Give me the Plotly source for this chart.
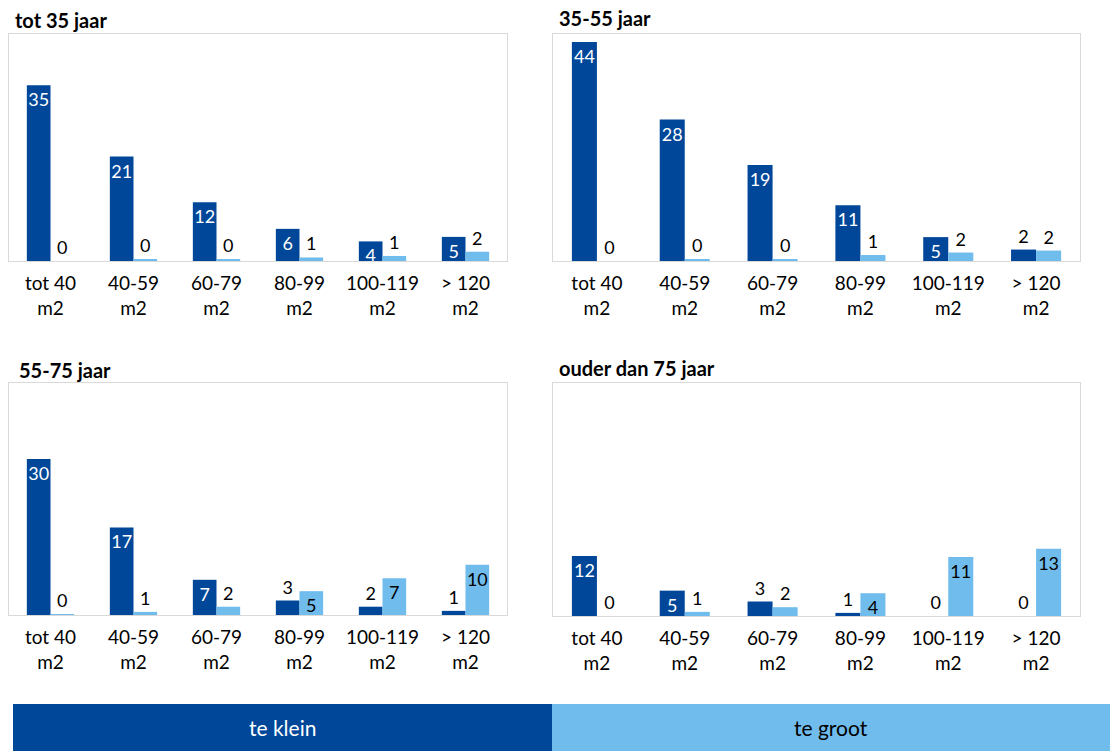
import plotly.graph_objects as go

# categories (floor area) and age groups
categories = ["tot 40 m2", "40-59 m2", "60-79 m2", "80-99 m2", "100-119 m2", "> 120 m2"]
panel_titles = ["tot 35 jaar", "35-55 jaar", "55-75 jaar", "ouder dan 75 jaar"]
series_names = ["te klein", "te groot"]

# values (percentages, labels are rounded)
te_klein_tot35 = [35.0, 20.8, 11.7, 6.4, 3.9, 4.8]
te_groot_tot35 = [0.0, 0.35, 0.4, 0.7, 1.0, 1.85]

te_klein_35_55 = [44.0, 28.4, 19.3, 11.2, 4.8, 2.3]
te_groot_35_55 = [0.0, 0.3, 0.3, 1.2, 1.7, 2.1]

te_klein_55_75 = [30.1, 16.9, 6.8, 2.8, 1.6, 0.8]
te_groot_55_75 = [0.1, 0.6, 1.6, 4.6, 7.1, 9.7]

te_klein_75plus = [11.6, 4.9, 2.8, 0.6, 0.0, 0.0]
te_groot_75plus = [0.0, 0.8, 1.7, 4.4, 11.4, 13.0]

panels = [
    (te_klein_tot35, te_groot_tot35),
    (te_klein_35_55, te_groot_35_55),
    (te_klein_55_75, te_groot_55_75),
    (te_klein_75plus, te_groot_75plus),
]

DARK = "#00479A"
LIGHT = "#70BCEC"
BORDER = "#D9D9D9"
FONT = "Lato"

W, H = 1110, 751

# pixel boxes of the four plot areas: (left, right, top, bottom)
boxes = [(9, 507, 34, 261), (553, 1080, 34, 261), (9, 507, 383, 615), (553, 1080, 383, 616)]
title_pos = [(13, 20), (557, 18), (17, 370), (557, 368)]
y_max = [45.2, 45.6, 44.8, 45.0]

tick_text = [c.replace(" m2", "<br>m2") for c in categories]


def positions(values):
    # short bars get their label above the bar
    return ["inside" if round(v) >= 4 else "outside" for v in values]


fig = go.Figure()
layout_axes = {}

for i, (klein, groot) in enumerate(panels):
    n = "" if i == 0 else str(i + 1)
    left, right, top, bottom = boxes[i]

    fig.add_trace(go.Bar(
        x=categories, y=klein, name=series_names[0],
        xaxis="x" + n, yaxis="y" + n,
        marker=dict(color=DARK, line=dict(width=0)),
        texttemplate="%{y:.0f}", textposition=positions(klein),
        insidetextanchor="end", textangle=0,
        insidetextfont=dict(color="white", size=18, family=FONT),
        outsidetextfont=dict(color="black", size=18, family=FONT),
        cliponaxis=False, showlegend=False, hoverinfo="skip"
    ))
    fig.add_trace(go.Bar(
        x=categories, y=groot, name=series_names[1],
        xaxis="x" + n, yaxis="y" + n,
        marker=dict(color=LIGHT, line=dict(width=0)),
        texttemplate="%{y:.0f}", textposition=positions(groot),
        insidetextanchor="end", textangle=0,
        insidetextfont=dict(color="black", size=18, family=FONT),
        outsidetextfont=dict(color="black", size=18, family=FONT),
        cliponaxis=False, showlegend=False, hoverinfo="skip"
    ))

    layout_axes["xaxis" + n] = dict(
        domain=[left / W, right / W], anchor="y" + n,
        tickvals=categories, ticktext=tick_text,
        tickfont=dict(size=19, family=FONT, color="black"),
        ticklabelstandoff=5,
        showline=True, mirror=True, linecolor=BORDER, linewidth=1,
        showgrid=False, ticks="", fixedrange=True
    )
    layout_axes["yaxis" + n] = dict(
        domain=[1 - bottom / H, 1 - top / H], anchor="x" + n,
        range=[0, y_max[i]], showticklabels=False, showgrid=False,
        zeroline=False, showline=True, mirror=True, linecolor=BORDER,
        linewidth=1, fixedrange=True
    )

annotations = []
for (tx, ty), title in zip(title_pos, panel_titles):
    annotations.append(dict(
        text="<b>" + title + "</b>", xref="paper", yref="paper",
        x=tx / W, y=1 - ty / H, xanchor="left", yanchor="middle",
        showarrow=False, font=dict(size=20, family=FONT, color="black")
    ))

# legend strip at the bottom
legend_top = 1 - 704 / H
shapes = [
    dict(type="rect", xref="paper", yref="paper", x0=13 / W, x1=552 / W,
         y0=0, y1=legend_top, fillcolor=DARK, line=dict(width=0)),
    dict(type="rect", xref="paper", yref="paper", x0=552 / W, x1=1,
         y0=0, y1=legend_top, fillcolor=LIGHT, line=dict(width=0)),
]
annotations.append(dict(text=series_names[0], xref="paper", yref="paper",
                        x=282 / W, y=legend_top / 2, xanchor="center",
                        yanchor="middle", showarrow=False,
                        font=dict(size=21, family=FONT, color="white")))
annotations.append(dict(text=series_names[1], xref="paper", yref="paper",
                        x=831 / W, y=legend_top / 2, xanchor="center",
                        yanchor="middle", showarrow=False,
                        font=dict(size=21, family=FONT, color="black")))

fig.update_layout(
    width=W, height=H,
    margin=dict(l=0, r=0, t=0, b=0),
    paper_bgcolor="white", plot_bgcolor="white",
    barmode="group", bargap=0.43, bargroupgap=0,
    uniformtext=dict(minsize=18, mode="show"),
    font=dict(family=FONT, color="black"),
    annotations=annotations, shapes=shapes,
    **layout_axes
)

fig.write_html("out.html", config={"displayModeBar": False},
               post_script="document.body.style.margin='0';")
